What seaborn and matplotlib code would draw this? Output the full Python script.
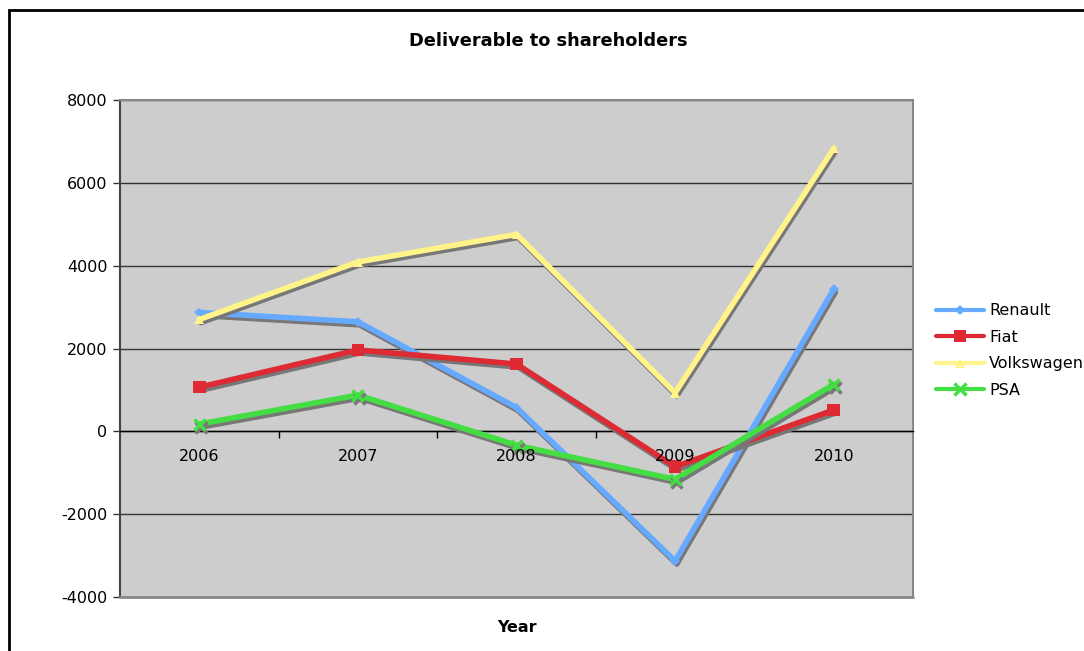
import matplotlib
matplotlib.use("Agg")
import matplotlib.pyplot as plt
import matplotlib.patheffects as pe
from matplotlib.patches import Rectangle
import seaborn as sns
import pandas as pd

years = ["2006", "2007", "2008", "2009", "2010"]
renault = [2870, 2645, 575, -3130, 3430]
fiat = [1065, 1965, 1625, -855, 515]
volkswagen = [2700, 4090, 4755, 930, 6830]
psa = [175, 875, -335, -1160, 1135]

series = ["Renault", "Fiat", "Volkswagen", "PSA"]
values = [renault, fiat, volkswagen, psa]
colors = ["#66aaff", "#dd2a33", "#fff38a", "#44dd44"]
markers = ["D", "s", "^", "x"]
msizes = [5, 9, 7, 8]

sns.set_theme(style="white")
plt.rcParams["font.family"] = ["DejaVu Sans"]
plt.rcParams["axes.unicode_minus"] = False
plt.rcParams["text.color"] = "black"
plt.rcParams["xtick.color"] = "black"
plt.rcParams["ytick.color"] = "black"

fig = plt.figure(figsize=(10.84, 6.51), dpi=100)
ax = fig.add_axes([120 / 1084, 1 - 597 / 651, (913 - 120) / 1084, (597 - 100) / 651])
ax.set_facecolor("#cdcdcd")

pos = list(range(len(years)))
for name, vals, c, m, ms in zip(series, values, colors, markers, msizes):
    df = pd.DataFrame({"x": pos, "y": vals})
    sns.lineplot(data=df, x="x", y="y", ax=ax, color=c, lw=4, marker=m,
                 markersize=ms, markeredgecolor=c, markeredgewidth=2.5 if m == "x" else 0,
                 label=name, zorder=3,
                 path_effects=[pe.SimpleLineShadow(offset=(1.2, -2.2), shadow_color="#777777", alpha=1),
                               pe.Normal()])

ax.set_xlim(-0.5, 4.5)
ax.set_ylim(-4000, 8000)
ax.set_yticks(range(-4000, 8001, 2000))
ax.yaxis.grid(True, color="#333333", lw=1)
ax.set_axisbelow(True)
ax.tick_params(axis="y", left=True, length=5, width=1, color="#333333", labelsize=11.5,
               labelcolor="black", pad=4)

# category axis crossing at 0
ax.spines["bottom"].set_position(("data", 0))
ax.spines["bottom"].set_color("black")
ax.spines["bottom"].set_linewidth(1)
ax.set_xticks([0.5, 1.5, 2.5, 3.5])
ax.set_xticklabels([])
ax.tick_params(axis="x", bottom=True, length=5, width=1, color="black", direction="out")
for p, lab in zip(pos, years):
    ax.text(p, -600, lab, ha="center", va="center", fontsize=11.5, color="black")

ax.spines["left"].set_color("#444444")
ax.spines["left"].set_linewidth(1.5)
for s in ["top", "right"]:
    ax.spines[s].set_color("#888888")
    ax.spines[s].set_linewidth(1.5)
ax.plot([0, 1], [0, 0], transform=ax.transAxes, color="#888888", lw=2, clip_on=False, zorder=5)

ax.set_xlabel("")
ax.set_ylabel("")
fig.text(548 / 1084, 1 - 41 / 651, "Deliverable to shareholders", ha="center", va="center",
         fontsize=12.8, fontweight="bold", color="black")
fig.text(517 / 1084, 1 - 627 / 651, "Year", ha="center", va="center", fontsize=11.5,
         fontweight="bold", color="black")

leg = ax.legend(loc="upper left", bbox_to_anchor=(930 / 1084, 1 - 297 / 651),
                bbox_transform=fig.transFigure, frameon=False, fontsize=11.5,
                handlelength=3, handletextpad=0.3, labelspacing=0.72, borderaxespad=0)
for h in leg.legend_handles:
    h.set_path_effects([])
    h.set_linewidth(3)
for t in leg.get_texts():
    t.set_color("black")

fig.patches.append(Rectangle((9 / 1084, -0.1), 1.2, 1 - 10 / 651 + 0.1, transform=fig.transFigure,
                             fill=False, edgecolor="black", lw=2))

fig.savefig("out.png", dpi=100, facecolor="white")
